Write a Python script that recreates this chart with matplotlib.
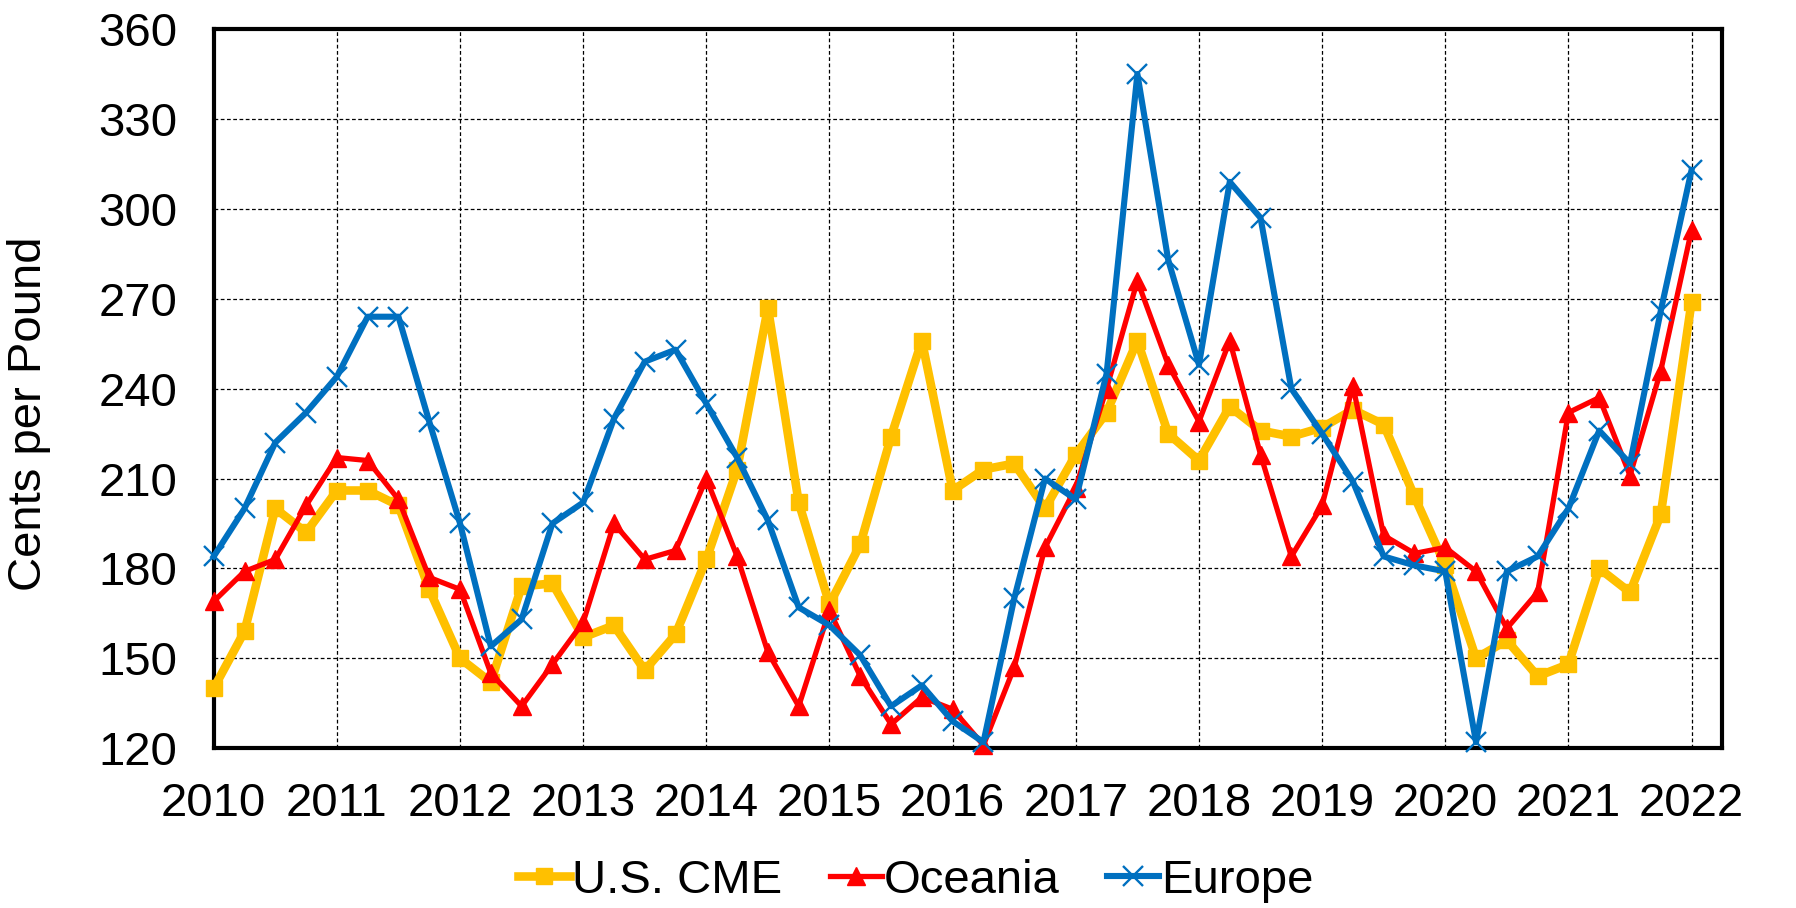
import matplotlib
matplotlib.use("Agg")
import matplotlib.pyplot as plt
import numpy as np

plt.rcParams['font.family'] = ['Liberation Sans', 'DejaVu Sans']

years = [2010, 2011, 2012, 2013, 2014, 2015, 2016, 2017, 2018, 2019, 2020, 2021, 2022]
quarters = [2010 + i * 0.25 for i in range(49)]

us_cme = [140, 159, 200, 192, 206, 206, 201, 173, 150, 142, 174, 175,
          157, 161, 146, 158, 183, 213, 267, 202, 168, 188, 224, 256,
          206, 213, 215, 200, 218, 232, 256, 225, 216, 234, 226, 224,
          227, 233, 228, 204, 181, 150, 156, 144, 148, 180, 172, 198,
          269]
oceania = [169, 179, 183, 201, 217, 216, 203, 177, 173, 145, 134, 148,
           162, 195, 183, 186, 210, 184, 152, 134, 166, 144, 128, 137,
           133, 121, 147, 187, 207, 240, 276, 248, 229, 256, 218, 184,
           201, 241, 191, 185, 187, 179, 160, 172, 232, 237, 211, 246,
           293]
europe = [184, 200, 222, 232, 244, 264, 264, 229, 195, 154, 163, 195,
          202, 230, 249, 253, 235, 217, 196, 167, 161, 151, 134, 141,
          129, 122, 170, 210, 203, 245, 345, 283, 248, 309, 297, 240,
          225, 209, 184, 181, 179, 122, 179, 184, 200, 226, 215, 266,
          313]
y_ticks = [120, 150, 180, 210, 240, 270, 300, 330, 360]

fig = plt.figure(figsize=(17.96, 9.08), dpi=100)
ax = fig.add_axes([0.119, 0.176, 0.840, 0.792])

ax.plot(quarters, us_cme, color='#FFC000', lw=6.2, marker='s', ms=11,
        label='U.S. CME', clip_on=False, zorder=3)
ax.plot(quarters, oceania, color='#FF0000', lw=3.8, marker='^', ms=12.5,
        label='Oceania', clip_on=False, zorder=4)
ax.plot(quarters, europe, color='#0070C0', lw=4.4, marker='x', ms=14,
        mew=1.7, label='Europe', clip_on=False, zorder=5)

ax.set_xlim(2010, 2022.25)
ax.set_ylim(120, 360)
ax.set_xticks(years)
ax.set_xticklabels([str(y) for y in years])
ax.set_yticks(y_ticks)
ax.grid(True, color='black', linestyle=(0, (3, 2)), linewidth=0.9)
ax.tick_params(axis='both', length=0, labelsize=34)
ax.tick_params(axis='x', pad=24)
ax.tick_params(axis='y', pad=26)
for s in ax.spines.values():
    s.set_linewidth(3)
ax.set_ylabel('Cents per Pound', fontsize=34)
ax.yaxis.set_label_coords(-0.108, 0.465)

leg = fig.legend(loc='center', bbox_to_anchor=(0.51, 0.03), ncol=3,
                 frameon=False, fontsize=34, handlelength=1.1,
                 handletextpad=0.05, columnspacing=1.0)

fig.savefig('out.png', dpi=100)
